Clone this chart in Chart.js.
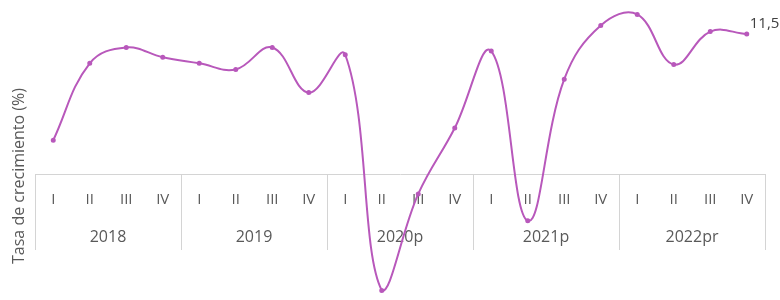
<!DOCTYPE html>
<html>
<head>
<meta charset="utf-8">
<script src="https://cdn.jsdelivr.net/npm/chart.js@4/dist/chart.umd.min.js"></script>
<style>
  html, body { margin: 0; padding: 0; background: #ffffff; }
  #wrap { width: 780px; height: 300px; }
</style>
</head>
<body>
<div id="wrap"><canvas id="myChart" width="780" height="300"></canvas></div>
<script>
var quarters = ['I', 'II', 'III', 'IV', 'I', 'II', 'III', 'IV', 'I', 'II', 'III', 'IV',
                'I', 'II', 'III', 'IV', 'I', 'II', 'III', 'IV'];
var years = ['2018', '2019', '2020p', '2021p', '2022pr'];
var growth = [2.8, 9.1, 10.4, 9.6,
              9.1, 8.6, 10.4, 6.7,
              9.8, -9.5, -1.6, 3.8,
              10.1, -3.8, 7.8, 12.2,
              13.1, 9.0, 11.7, 11.5];
var lastLabel = '11,5';
var axisTitle = 'Tasa de crecimiento (%)';

var lineColor = '#b858bb';
var textColor = '#595959';
var gridColor = '#d4d4d4';

var groupPlugin = {
    id: 'groupPlugin',
    beforeDatasetsDraw: function (chart) {
        var ctx = chart.ctx;
        var x = chart.scales.x;
        var axisY = chart.scales.y.getPixelForValue(0);
        var step = x.getPixelForValue(1) - x.getPixelForValue(0);
        ctx.save();
        ctx.strokeStyle = gridColor;
        ctx.lineWidth = 1;
        for (var i = 0; i <= years.length; i++) {
            var px = Math.round(x.getPixelForValue(i * 4) - step / 2) + 0.5;
            ctx.beginPath();
            ctx.moveTo(px, axisY);
            ctx.lineTo(px, 250);
            ctx.stroke();
        }
        ctx.fillStyle = textColor;
        ctx.font = '16px "Open Sans"';
        ctx.textAlign = 'center';
        ctx.textBaseline = 'middle';
        for (var j = 0; j < years.length; j++) {
            var cx = (x.getPixelForValue(j * 4 + 1) + x.getPixelForValue(j * 4 + 2)) / 2;
            ctx.fillText(years[j], cx, 237);
        }
        ctx.restore();
    },
    afterDraw: function (chart) {
        var ctx = chart.ctx;
        var meta = chart.getDatasetMeta(0);
        var last = meta.data[meta.data.length - 1];
        ctx.save();
        ctx.fillStyle = '#404040';
        ctx.font = '15px "Open Sans"';
        ctx.textAlign = 'left';
        ctx.textBaseline = 'middle';
        ctx.fillText(lastLabel, last.x + 3, last.y - 10);
        // y axis title
        ctx.translate(19, 176);
        ctx.rotate(-Math.PI / 2);
        ctx.textAlign = 'center';
        ctx.fillStyle = textColor;
        ctx.font = '16px "Open Sans"';
        ctx.fillText(axisTitle, 0, 0);
        ctx.restore();
    }
};

new Chart('myChart', {
    type: 'line',
    data: {
        labels: quarters,
        datasets: [{
            label: 'Tasa de crecimiento',
            data: growth,
            borderColor: lineColor,
            backgroundColor: lineColor,
            borderWidth: 2,
            pointRadius: 1.5,
            pointHoverRadius: 1.5,
            tension: 0.4,
            fill: false
        }]
    },
    options: {
        responsive: false,
        animation: false,
        layout: { padding: { left: 35, right: 15, top: 1, bottom: 1 } },
        plugins: {
            legend: { display: false },
            title: { display: false },
            tooltip: { enabled: false }
        },
        scales: {
            x: {
                position: { y: 0 },
                offset: true,
                grid: { drawOnChartArea: false, drawTicks: false },
                border: { display: true, color: gridColor, width: 1 },
                ticks: {
                    color: textColor,
                    padding: 16,
                    maxRotation: 0,
                    autoSkip: false,
                    font: { family: 'Open Sans', size: 15 }
                }
            },
            y: {
                display: false,
                min: -10,
                max: 14
            }
        }
    },
    plugins: [groupPlugin]
});
</script>
</body>
</html>
